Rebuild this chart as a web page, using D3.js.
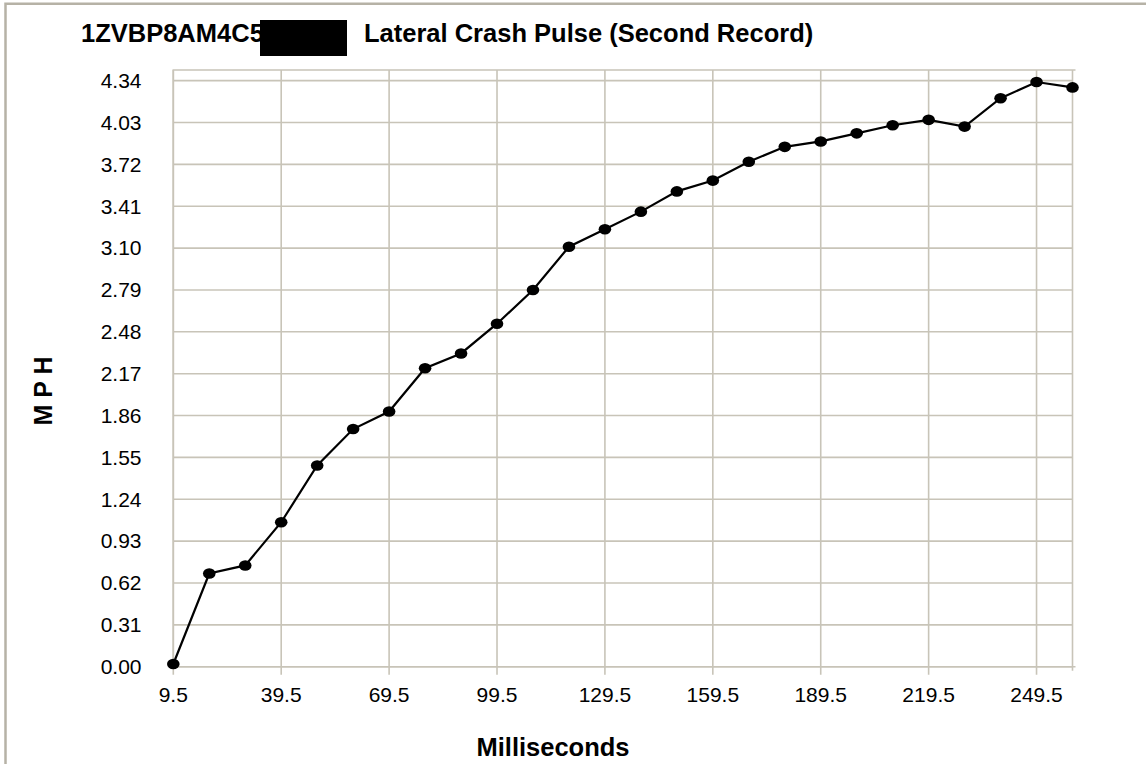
<!DOCTYPE html>
<html>
<head>
<meta charset="utf-8">
<script src="https://cdn.jsdelivr.net/npm/d3@7"></script>
<style>
  body { margin: 0; background: #fff; }
  text { font-family: "Liberation Sans", Arial, sans-serif; fill: #000; }
</style>
</head>
<body>
<div class="chart"></div>
<script>
// data
const times = [9.5, 19.5, 29.5, 39.5, 49.5, 59.5, 69.5, 79.5, 89.5, 99.5, 109.5, 119.5, 129.5,
    139.5, 149.5, 159.5, 169.5, 179.5, 189.5, 199.5, 209.5, 219.5, 229.5, 239.5, 249.5, 259.5]
const mph = [0.02, 0.69, 0.75, 1.07, 1.49, 1.76, 1.89, 2.21, 2.32, 2.54, 2.79, 3.11, 3.24,
    3.37, 3.52, 3.60, 3.74, 3.85, 3.89, 3.95, 4.01, 4.05, 4.00, 4.21, 4.33, 4.29]
const yTicks = [0, 0.31, 0.62, 0.93, 1.24, 1.55, 1.86, 2.17, 2.48, 2.79, 3.10, 3.41, 3.72, 4.03, 4.34]
const xTicks = [9.5, 39.5, 69.5, 99.5, 129.5, 159.5, 189.5, 219.5, 249.5]

var width = 1146, height = 764
var margin = ({ top: 70, right: 73.5, bottom: 97.3, left: 173.3 })
var grid = "#c8c4b8"

var data = times.map((t, i) => ({ t: t, v: mph[i] }))

var x = d3.scaleLinear()
    .domain([9.5, 259.5])
    .range([margin.left, width - margin.right])

var y = d3.scaleLinear()
    .domain([0, 4.419])
    .range([height - margin.bottom, margin.top])

var svg = d3.select(".chart").append("svg")
    .attr("width", width)
    .attr("height", height)

// outer frame (top + left only visible)
svg.append("path")
    .attr("d", `M5.5,${height}V3.8H${width}`)
    .attr("fill", "none")
    .attr("stroke", "#b6b2a6")
    .attr("stroke-width", 2.5)

// title + redaction block
svg.append("text")
    .attr("x", 81).attr("y", 42)
    .attr("font-size", 25.5).attr("font-weight", "bold")
    .text("1ZVBP8AM4C5")
svg.append("rect")
    .attr("x", 260).attr("y", 20)
    .attr("width", 87).attr("height", 36)
    .attr("fill", "#000")
svg.append("text")
    .attr("x", 364).attr("y", 42)
    .attr("font-size", 25.5).attr("font-weight", "bold")
    .text("Lateral Crash Pulse (Second Record)")

// grid
var g = svg.append("g")
    .attr("stroke", grid)
    .attr("stroke-width", 1.6)
    .attr("fill", "none")

g.selectAll(".hl")
    .data(yTicks)
    .join("line")
    .attr("x1", margin.left).attr("x2", width - margin.right)
    .attr("y1", d => y(d)).attr("y2", d => y(d))

g.selectAll(".vl")
    .data(xTicks)
    .join("line")
    .attr("x1", d => x(d)).attr("x2", d => x(d))
    .attr("y1", margin.top).attr("y2", y(0) + 8)

// plot box
g.append("path")
    .attr("d", `M${x(9.5)},${y(0)}V${margin.top}H${width - margin.right + 3}
        M${width - margin.right},${margin.top}V${y(0) + 4}
        M${x(9.5)},${y(0)}H${width - margin.right + 3}`)

// y tick labels
svg.append("g")
    .selectAll("text")
    .data(yTicks)
    .join("text")
    .attr("x", 141.5)
    .attr("y", d => y(d))
    .attr("dy", "0.35em")
    .attr("text-anchor", "end")
    .attr("font-size", 21)
    .text(d => d3.format(".2f")(d))

// x tick labels
svg.append("g")
    .selectAll("text")
    .data(xTicks)
    .join("text")
    .attr("x", d => x(d))
    .attr("y", 701.5)
    .attr("text-anchor", "middle")
    .attr("font-size", 21)
    .text(d => d3.format(".1f")(d))

// axis titles
svg.append("text")
    .attr("x", 553).attr("y", 756)
    .attr("text-anchor", "middle")
    .attr("font-size", 25.5).attr("font-weight", "bold")
    .text("Milliseconds")

svg.append("text")
    .attr("transform", "translate(52,391) rotate(-90)")
    .attr("text-anchor", "middle")
    .attr("font-size", 25).attr("font-weight", "bold")
    .text("M P H")

// series
var line = d3.line()
    .x(d => x(d.t))
    .y(d => y(d.v))

svg.append("path")
    .datum(data)
    .attr("d", line)
    .attr("fill", "none")
    .attr("stroke", "#000")
    .attr("stroke-width", 2.2)

svg.append("g")
    .selectAll("ellipse")
    .data(data)
    .join("ellipse")
    .attr("cx", d => x(d.t))
    .attr("cy", d => y(d.v))
    .attr("rx", 6.3)
    .attr("ry", 5.3)
    .attr("fill", "#000")
</script>
</body>
</html>
